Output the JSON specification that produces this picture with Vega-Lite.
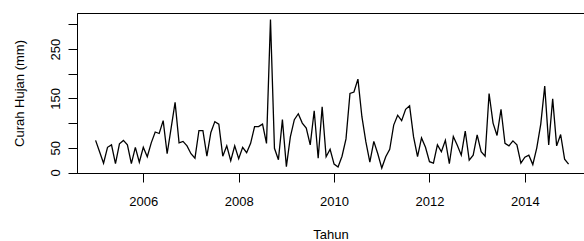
{
  "$schema": "https://vega.github.io/schema/vega-lite/v6.json",
  "width": 507,
  "height": 160,
  "autosize": {"type": "none"},
  "padding": {"left": 77, "top": 13, "right": 0, "bottom": 68},
  "background": "white",
  "config": {
    "view": {"stroke": "black", "strokeWidth": 1},
    "font": "Liberation Sans",
    "axis": {
      "grid": false,
      "domainColor": "black",
      "tickColor": "black",
      "labelColor": "black",
      "titleColor": "black",
      "labelFont": "Liberation Sans",
      "titleFont": "Liberation Sans",
      "labelFontSize": 13,
      "titleFontSize": 13,
      "titleFontWeight": "normal",
      "tickSize": 9,
      "domainWidth": 1,
      "tickWidth": 1
    }
  },
  "data": {
    "values": [
      {"tahun": 2005.0, "curah_hujan": 65}, {"tahun": 2005.0833, "curah_hujan": 42}, {"tahun": 2005.1667, "curah_hujan": 19}, {"tahun": 2005.25, "curah_hujan": 51}, {"tahun": 2005.3333, "curah_hujan": 56}, {"tahun": 2005.4167, "curah_hujan": 18}, {"tahun": 2005.5, "curah_hujan": 58}, {"tahun": 2005.5833, "curah_hujan": 65}, {"tahun": 2005.6667, "curah_hujan": 56}, {"tahun": 2005.75, "curah_hujan": 18}, {"tahun": 2005.8333, "curah_hujan": 51}, {"tahun": 2005.9167, "curah_hujan": 21},
      {"tahun": 2006.0, "curah_hujan": 51}, {"tahun": 2006.0833, "curah_hujan": 32}, {"tahun": 2006.1667, "curah_hujan": 60}, {"tahun": 2006.25, "curah_hujan": 82}, {"tahun": 2006.3333, "curah_hujan": 79}, {"tahun": 2006.4167, "curah_hujan": 105}, {"tahun": 2006.5, "curah_hujan": 38}, {"tahun": 2006.5833, "curah_hujan": 90}, {"tahun": 2006.6667, "curah_hujan": 142}, {"tahun": 2006.75, "curah_hujan": 60}, {"tahun": 2006.8333, "curah_hujan": 63}, {"tahun": 2006.9167, "curah_hujan": 54},
      {"tahun": 2007.0, "curah_hujan": 38}, {"tahun": 2007.0833, "curah_hujan": 29}, {"tahun": 2007.1667, "curah_hujan": 85}, {"tahun": 2007.25, "curah_hujan": 85}, {"tahun": 2007.3333, "curah_hujan": 33}, {"tahun": 2007.4167, "curah_hujan": 81}, {"tahun": 2007.5, "curah_hujan": 103}, {"tahun": 2007.5833, "curah_hujan": 98}, {"tahun": 2007.6667, "curah_hujan": 33}, {"tahun": 2007.75, "curah_hujan": 54}, {"tahun": 2007.8333, "curah_hujan": 24}, {"tahun": 2007.9167, "curah_hujan": 54},
      {"tahun": 2008.0, "curah_hujan": 28}, {"tahun": 2008.0833, "curah_hujan": 51}, {"tahun": 2008.1667, "curah_hujan": 40}, {"tahun": 2008.25, "curah_hujan": 59}, {"tahun": 2008.3333, "curah_hujan": 93}, {"tahun": 2008.4167, "curah_hujan": 93}, {"tahun": 2008.5, "curah_hujan": 98}, {"tahun": 2008.5833, "curah_hujan": 59}, {"tahun": 2008.6667, "curah_hujan": 310}, {"tahun": 2008.75, "curah_hujan": 49}, {"tahun": 2008.8333, "curah_hujan": 26}, {"tahun": 2008.9167, "curah_hujan": 107},
      {"tahun": 2009.0, "curah_hujan": 12}, {"tahun": 2009.0833, "curah_hujan": 72}, {"tahun": 2009.1667, "curah_hujan": 107}, {"tahun": 2009.25, "curah_hujan": 119}, {"tahun": 2009.3333, "curah_hujan": 100}, {"tahun": 2009.4167, "curah_hujan": 90}, {"tahun": 2009.5, "curah_hujan": 56}, {"tahun": 2009.5833, "curah_hujan": 125}, {"tahun": 2009.6667, "curah_hujan": 29}, {"tahun": 2009.75, "curah_hujan": 133}, {"tahun": 2009.8333, "curah_hujan": 32}, {"tahun": 2009.9167, "curah_hujan": 47},
      {"tahun": 2010.0, "curah_hujan": 17}, {"tahun": 2010.0833, "curah_hujan": 11}, {"tahun": 2010.1667, "curah_hujan": 33}, {"tahun": 2010.25, "curah_hujan": 68}, {"tahun": 2010.3333, "curah_hujan": 160}, {"tahun": 2010.4167, "curah_hujan": 163}, {"tahun": 2010.5, "curah_hujan": 189}, {"tahun": 2010.5833, "curah_hujan": 113}, {"tahun": 2010.6667, "curah_hujan": 62}, {"tahun": 2010.75, "curah_hujan": 21}, {"tahun": 2010.8333, "curah_hujan": 63}, {"tahun": 2010.9167, "curah_hujan": 38},
      {"tahun": 2011.0, "curah_hujan": 9}, {"tahun": 2011.0833, "curah_hujan": 32}, {"tahun": 2011.1667, "curah_hujan": 47}, {"tahun": 2011.25, "curah_hujan": 96}, {"tahun": 2011.3333, "curah_hujan": 116}, {"tahun": 2011.4167, "curah_hujan": 105}, {"tahun": 2011.5, "curah_hujan": 128}, {"tahun": 2011.5833, "curah_hujan": 135}, {"tahun": 2011.6667, "curah_hujan": 72}, {"tahun": 2011.75, "curah_hujan": 32}, {"tahun": 2011.8333, "curah_hujan": 70}, {"tahun": 2011.9167, "curah_hujan": 51},
      {"tahun": 2012.0, "curah_hujan": 22}, {"tahun": 2012.0833, "curah_hujan": 19}, {"tahun": 2012.1667, "curah_hujan": 56}, {"tahun": 2012.25, "curah_hujan": 42}, {"tahun": 2012.3333, "curah_hujan": 65}, {"tahun": 2012.4167, "curah_hujan": 18}, {"tahun": 2012.5, "curah_hujan": 73}, {"tahun": 2012.5833, "curah_hujan": 55}, {"tahun": 2012.6667, "curah_hujan": 35}, {"tahun": 2012.75, "curah_hujan": 84}, {"tahun": 2012.8333, "curah_hujan": 25}, {"tahun": 2012.9167, "curah_hujan": 35},
      {"tahun": 2013.0, "curah_hujan": 76}, {"tahun": 2013.0833, "curah_hujan": 42}, {"tahun": 2013.1667, "curah_hujan": 33}, {"tahun": 2013.25, "curah_hujan": 160}, {"tahun": 2013.3333, "curah_hujan": 100}, {"tahun": 2013.4167, "curah_hujan": 75}, {"tahun": 2013.5, "curah_hujan": 128}, {"tahun": 2013.5833, "curah_hujan": 59}, {"tahun": 2013.6667, "curah_hujan": 54}, {"tahun": 2013.75, "curah_hujan": 64}, {"tahun": 2013.8333, "curah_hujan": 56}, {"tahun": 2013.9167, "curah_hujan": 19},
      {"tahun": 2014.0, "curah_hujan": 31}, {"tahun": 2014.0833, "curah_hujan": 35}, {"tahun": 2014.1667, "curah_hujan": 16}, {"tahun": 2014.25, "curah_hujan": 50}, {"tahun": 2014.3333, "curah_hujan": 98}, {"tahun": 2014.4167, "curah_hujan": 175}, {"tahun": 2014.5, "curah_hujan": 56}, {"tahun": 2014.5833, "curah_hujan": 149}, {"tahun": 2014.6667, "curah_hujan": 54}, {"tahun": 2014.75, "curah_hujan": 77}, {"tahun": 2014.8333, "curah_hujan": 27}, {"tahun": 2014.9167, "curah_hujan": 17}
    ]
  },
  "mark": {"type": "line", "color": "black", "strokeWidth": 1.3, "strokeJoin": "miter"},
  "encoding": {
    "x": {
      "field": "tahun",
      "type": "quantitative",
      "scale": {"domain": [2004.61, 2015.24], "nice": false, "zero": false},
      "axis": {
        "title": "Tahun",
        "values": [2006, 2008, 2010, 2012, 2014],
        "format": "d",
        "labelPadding": 13,
        "titlePadding": 20,
        "labelFlush": false,
        "labelOverlap": false
      }
    },
    "y": {
      "field": "curah_hujan",
      "type": "quantitative",
      "scale": {"domain": [-1, 323], "nice": false, "zero": false},
      "axis": {
        "title": "Curah Hujan (mm)",
        "values": [0, 50, 100, 150, 200, 250, 300],
        "labelExpr": "datum.value == 0 || datum.value == 50 || datum.value == 150 || datum.value == 250 ? datum.label : ''",
        "labelAngle": -90,
        "labelAlign": "center",
        "labelBaseline": "alphabetic",
        "labelPadding": 9,
        "titlePadding": 23,
        "labelOverlap": false,
        "labelFlush": false
      }
    }
  }
}
